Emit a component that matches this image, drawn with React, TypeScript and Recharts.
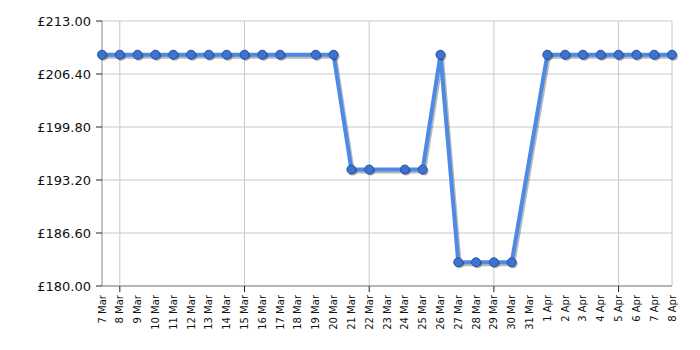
import { LineChart, Line, XAxis, YAxis, CartesianGrid, ReferenceLine } from "recharts";

const days = [
  "7 Mar", "8 Mar", "9 Mar", "10 Mar", "11 Mar", "12 Mar", "13 Mar", "14 Mar",
  "15 Mar", "16 Mar", "17 Mar", "18 Mar", "19 Mar", "20 Mar", "21 Mar", "22 Mar",
  "23 Mar", "24 Mar", "25 Mar", "26 Mar", "27 Mar", "28 Mar", "29 Mar", "30 Mar",
  "31 Mar", "1 Apr", "2 Apr", "3 Apr", "4 Apr", "5 Apr", "6 Apr", "7 Apr", "8 Apr",
];

// null = no price recorded that day (line is joined across)
const prices: (number | null)[] = [
  208.8, 208.8, 208.8, 208.8, 208.8, 208.8, 208.8, 208.8,
  208.8, 208.8, 208.8, null, 208.8, 208.8, 194.5, 194.5,
  null, 194.5, 194.5, 208.8, 182.95, 182.95, 182.95, 182.95,
  null, 208.8, 208.8, 208.8, 208.8, 208.8, 208.8, 208.8, 208.8,
];

const priceTicks = [180, 186.6, 193.2, 199.8, 206.4, 213];
const weekTicks = ["8 Mar", "15 Mar", "22 Mar", "29 Mar", "5 Apr"];

const data = days.map((day, i) => ({ day, price: prices[i] }));

const W = 700;
const H = 350;

function DayTick(props: any) {
  const { x, y, payload } = props;
  const marked = weekTicks.includes(payload.value);
  return (
    <g>
      {marked && <line x1={x} x2={x} y1={y - 8} y2={y - 2} stroke="#222" strokeWidth={1} />}
      <text
        x={0}
        y={0}
        transform={`translate(${x + 3.5},${y + 1}) rotate(-90)`}
        textAnchor="end"
        fontSize={10}
        fontFamily="DejaVu Sans, Verdana, sans-serif"
        fill="#111"
      >
        {payload.value}
      </text>
    </g>
  );
}

function PriceTick(props: any) {
  const { x, y, payload } = props;
  return (
    <g>
      <line x1={x + 2} x2={x + 8} y1={y} y2={y} stroke="#222" strokeWidth={1} />
      <text
        x={x - 3}
        y={y + 5}
        textAnchor="end"
        fontSize={13}
        fontFamily="DejaVu Sans, Verdana, sans-serif"
        fill="#111"
      >
        £{payload.value.toFixed(2)}
      </text>
    </g>
  );
}

function Dot(props: any) {
  const { cx, cy, value } = props;
  if (value == null || cx == null || cy == null) return null;
  return (
    <g>
      <circle cx={cx + 1.5} cy={cy + 1.5} r={4.5} fill="rgba(0,0,0,0.3)" />
      <circle cx={cx} cy={cy} r={4.5} fill="#3b73cf" stroke="#24549f" strokeWidth={1} />
    </g>
  );
}

export default function App() {
  return (
    <div style={{ width: W, height: H, background: "#fff" }}>
      <style>{`body{margin:0}`}</style>
      <LineChart
        width={W}
        height={H}
        data={data}
        margin={{ top: 21, right: 28, bottom: 0, left: 0 }}
      >
        <CartesianGrid stroke="#c8c8c8" vertical={false} />
        {[...weekTicks, days[days.length - 1]].map((d) => (
          <ReferenceLine key={d} x={d} stroke="#c8c8c8" />
        ))}
        <XAxis
          dataKey="day"
          interval={0}
          height={64}
          tick={<DayTick />}
          tickLine={false}
          axisLine={{ stroke: "#888" }}
        />
        <YAxis
          domain={[180, 213]}
          ticks={priceTicks}
          width={102}
          tick={<PriceTick />}
          tickLine={false}
          axisLine={{ stroke: "#888" }}
        />
        <Line
          type="linear"
          dataKey="price"
          stroke="rgba(0,0,0,0.28)"
          strokeWidth={4}
          connectNulls
          dot={false}
          activeDot={false}
          isAnimationActive={false}
          transform="translate(1.5,2)"
        />
        <Line
          type="linear"
          dataKey="price"
          stroke="#4d8ae6"
          strokeWidth={4}
          connectNulls
          dot={<Dot />}
          activeDot={false}
          isAnimationActive={false}
        />
      </LineChart>
    </div>
  );
}
